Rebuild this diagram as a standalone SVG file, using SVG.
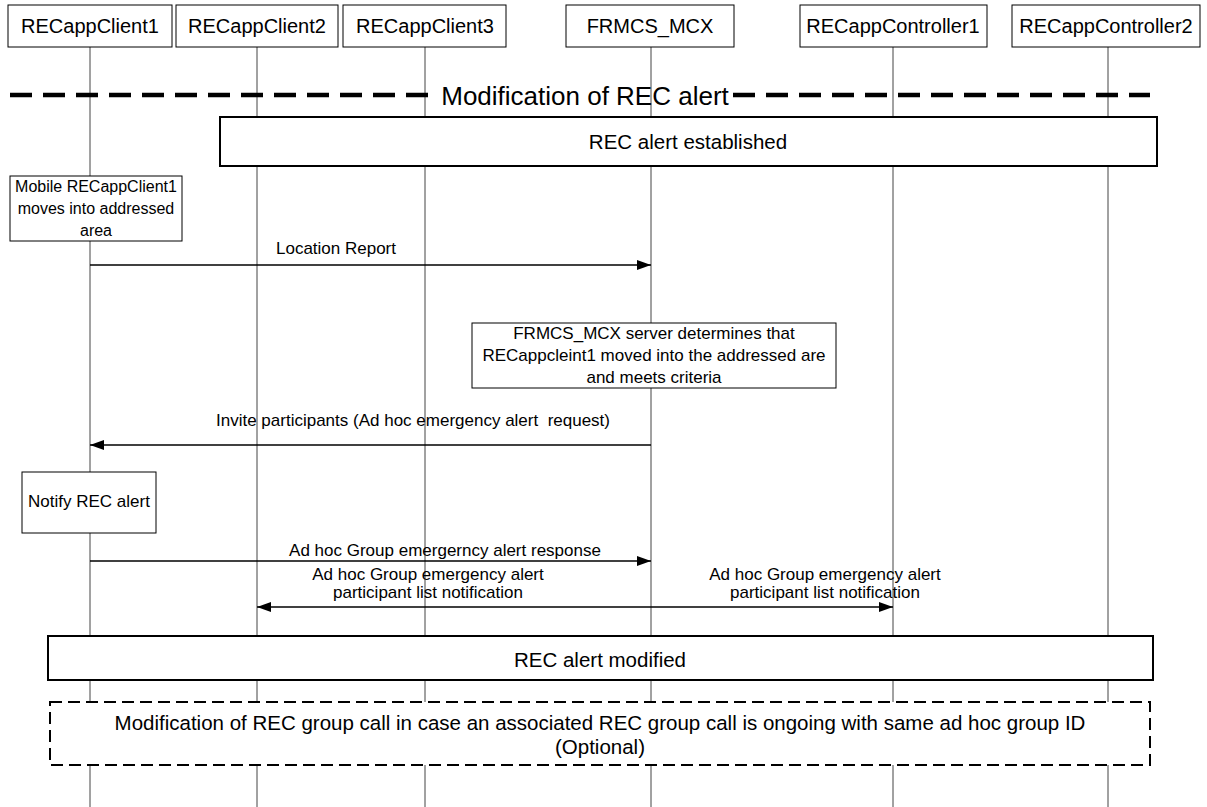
<svg xmlns="http://www.w3.org/2000/svg" width="1207" height="807" viewBox="0 0 1207 807">
<style>
text{font-family:"Liberation Sans",Arial,sans-serif;fill:#000}
.hdr{font-size:20px;text-anchor:middle}
.lbl{font-size:17px;text-anchor:middle}
.sm{font-size:16px;text-anchor:middle}
.big{font-size:20.5px;text-anchor:middle}
.box{fill:#fff;stroke:#000;stroke-width:1}
.bar{fill:#fff;stroke:#000;stroke-width:2}
.life{stroke:#444;stroke-width:1}
.msg{stroke:#000;stroke-width:1.6;fill:none}
</style>
<defs>
<marker id="ah" viewBox="0 0 14 10" refX="14" refY="5" markerWidth="14" markerHeight="10" markerUnits="userSpaceOnUse" orient="auto"><path d="M0,0 L14,5 L0,10 Z" fill="#000"/></marker>
</defs>
<g id="lifelines">
<line class="life" x1="90" y1="47" x2="90" y2="807"/>
<line class="life" x1="257" y1="47" x2="257" y2="807"/>
<line class="life" x1="425" y1="47" x2="425" y2="807"/>
<line class="life" x1="651" y1="47" x2="651" y2="807"/>
<line class="life" x1="893" y1="47" x2="893" y2="807"/>
<line class="life" x1="1108" y1="47" x2="1108" y2="807"/>
</g>
<g id="h1"><rect class="box" x="8" y="5" width="164" height="42"/><text class="hdr" x="90" y="33">RECappClient1</text></g>
<g id="h2"><rect class="box" x="176" y="5" width="162" height="42"/><text class="hdr" x="257" y="33">RECappClient2</text></g>
<g id="h3"><rect class="box" x="343" y="5" width="163" height="42"/><text class="hdr" x="425" y="33">RECappClient3</text></g>
<g id="h4"><rect class="box" x="566" y="5" width="168" height="42"/><text class="hdr" x="650" y="33">FRMCS_MCX</text></g>
<g id="h5"><rect class="box" x="800" y="5" width="187" height="42"/><text class="hdr" x="893" y="33">RECappController1</text></g>
<g id="h6"><rect class="box" x="1012" y="5" width="188" height="42"/><text class="hdr" x="1106" y="33">RECappController2</text></g>
<g id="title">
<line x1="10" y1="95" x2="436" y2="95" stroke="#000" stroke-width="4.5" stroke-dasharray="22 11"/>
<line x1="733" y1="95" x2="1150" y2="95" stroke="#000" stroke-width="4.5" stroke-dasharray="22 11"/>
<text x="585" y="105" font-size="26" text-anchor="middle">Modification of REC alert</text>
</g>
<g id="established"><rect class="bar" x="220" y="117" width="937" height="49"/><text class="big" x="688" y="149">REC alert established</text></g>
<g id="mobile"><rect class="box" x="10" y="176" width="172" height="65"/>
<text class="sm" x="96" y="192">Mobile RECappClient1</text>
<text class="sm" x="96" y="214">moves into addressed</text>
<text class="sm" x="96" y="236">area</text></g>
<g id="server"><rect class="box" x="472" y="323" width="364" height="65"/>
<text class="lbl" x="654" y="339">FRMCS_MCX server determines that</text>
<text class="lbl" x="654" y="361">RECappcleint1 moved into the addressed are</text>
<text class="lbl" x="654" y="383">and meets criteria</text></g>
<g id="notify"><rect class="box" x="22" y="472" width="134" height="61"/><text class="lbl" x="89" y="507">Notify REC alert</text></g>
<g id="connectors">
<line class="msg" x1="90" y1="265" x2="651" y2="265" marker-end="url(#ah)"/>
<text class="lbl" x="336" y="254">Location Report</text>
<line class="msg" x1="651" y1="445" x2="90" y2="445" marker-end="url(#ah)"/>
<text class="lbl" x="413" y="426" xml:space="preserve">Invite participants (Ad hoc emergency alert  request)</text>
<line class="msg" x1="90" y1="561" x2="651" y2="561" marker-end="url(#ah)"/>
<text class="lbl" x="445" y="556">Ad hoc Group emergerncy alert response</text>
<line class="msg" x1="651" y1="607" x2="257" y2="607" marker-end="url(#ah)"/>
<line class="msg" x1="651" y1="607" x2="893" y2="607" marker-end="url(#ah)"/>
<text class="lbl" x="428" y="580">Ad hoc Group emergency alert</text>
<text class="lbl" x="428" y="598">participant list notification</text>
<text class="lbl" x="825" y="580">Ad hoc Group emergency alert</text>
<text class="lbl" x="825" y="598">participant list notification</text>
</g>
<g id="modified"><rect class="bar" x="48" y="636" width="1105" height="44"/><text class="big" x="600" y="667">REC alert modified</text></g>
<g id="optional"><rect x="50" y="702" width="1100" height="63" fill="#fff" stroke="#000" stroke-width="2" stroke-dasharray="12 6"/>
<text class="big" x="600" y="730">Modification of REC group call in case an associated REC group call is ongoing with same ad hoc group ID</text>
<text class="big" x="600" y="754">(Optional)</text></g>
</svg>
